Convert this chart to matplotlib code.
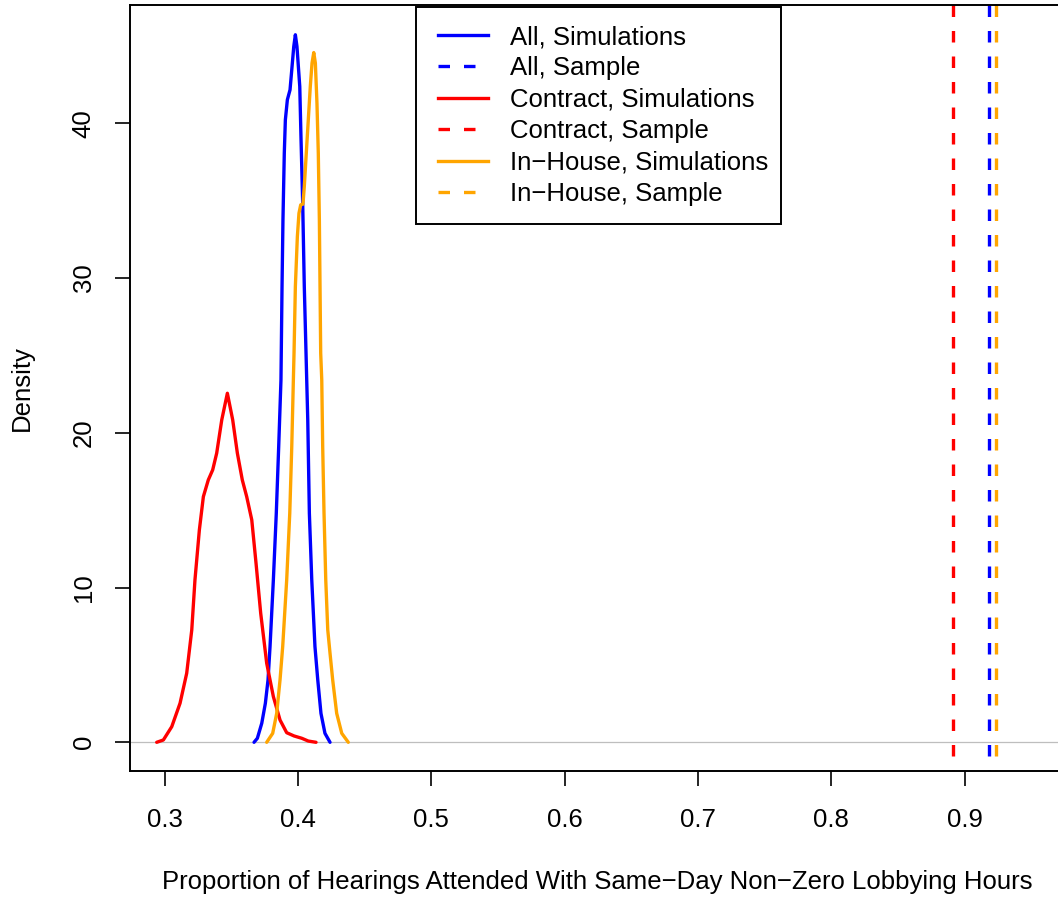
import matplotlib
matplotlib.use("Agg")
import matplotlib.pyplot as plt
from matplotlib.lines import Line2D
from matplotlib.patches import Rectangle

plt.rcParams['font.family'] = ['Liberation Sans', 'DejaVu Sans']

# density curves
all_x = [0.3670, 0.3695, 0.3728, 0.3755, 0.3775, 0.3790, 0.3815, 0.3837, 0.3855,
         0.3872, 0.3880, 0.3887, 0.3897, 0.3905, 0.3920, 0.3940, 0.3953, 0.3968,
         0.3980, 0.3992, 0.4013, 0.4022, 0.4035, 0.4047, 0.4060, 0.4073, 0.4085,
         0.4103, 0.4127, 0.4148, 0.4172, 0.4202, 0.4240]
all_y = [0.0, 0.26, 1.23, 2.52, 4.03, 6.18, 10.49, 14.80, 19.10,
         23.41, 29.44, 33.75, 38.06, 40.21, 41.51, 42.15, 43.44, 44.95,
         45.71, 44.95, 42.37, 39.13, 34.83, 29.44, 25.14, 20.83, 14.80,
         10.49, 6.18, 4.03, 1.87, 0.58, 0.0]

contract_x = [0.2940, 0.2990, 0.3053, 0.3115, 0.3165, 0.3203, 0.3227, 0.3260, 0.3290,
              0.3327, 0.3360, 0.3390, 0.3428, 0.3470, 0.3510, 0.3545, 0.3582, 0.3615,
              0.3653, 0.3685, 0.3720, 0.3765, 0.3815, 0.3865, 0.3915, 0.3970, 0.4028,
              0.4077, 0.4135]
contract_y = [0.0, 0.15, 1.01, 2.52, 4.46, 7.26, 10.49, 13.72, 15.87,
              16.95, 17.60, 18.68, 20.83, 22.55, 20.83, 18.68, 16.95, 15.87,
              14.37, 11.57, 8.34, 5.11, 2.95, 1.44, 0.62, 0.41, 0.26,
              0.08, 0.0]

inhouse_x = [0.3765, 0.3810, 0.3840, 0.3865, 0.3885, 0.3915, 0.3938, 0.3953, 0.3965,
             0.3970, 0.3980, 0.3995, 0.4007, 0.4020, 0.4037, 0.4047, 0.4062, 0.4077,
             0.4092, 0.4105, 0.4118, 0.4130, 0.4142, 0.4152, 0.4160, 0.4165, 0.4170,
             0.4178, 0.4185, 0.4195, 0.4208, 0.4223, 0.4240, 0.4260, 0.4290, 0.4328,
             0.4377]
inhouse_y = [0.0, 0.58, 1.87, 4.03, 6.18, 10.49, 14.80, 19.10, 23.41,
             25.14, 29.44, 32.67, 34.18, 34.72, 34.77, 35.90, 38.06, 40.21,
             42.37, 43.88, 44.56, 43.88, 41.29, 38.06, 33.75, 29.44, 25.14,
             23.41, 19.10, 14.80, 10.49, 7.26, 5.75, 4.03, 1.87, 0.58,
             0.0]

# observed sample proportions
sample_all = 0.918
sample_contract = 0.891
sample_inhouse = 0.9237

labels = ['All, Simulations', 'All, Sample', 'Contract, Simulations',
          'Contract, Sample', 'In\u2212House, Simulations', 'In\u2212House, Sample']
colors = ['blue', 'red', 'orange']

W, H = 1058, 897
fig = plt.figure(figsize=(W / 100, H / 100), dpi=100)
ax = fig.add_axes([130.3 / W, 1 - 770.7 / H, (1064 - 130.3) / W, (770.7 - 5.5) / H])

fs = 18.5
lw = 2.4
dash = (0, (3.45, 4.2))

ax.axhline(0, color='#BEBEBE', lw=0.9, zorder=1)
for xs, ys, c in [(all_x, all_y, colors[0]), (contract_x, contract_y, colors[1]),
                  (inhouse_x, inhouse_y, colors[2])]:
    ax.plot(xs, ys, color=c, lw=lw, solid_joinstyle='round', solid_capstyle='round')

# sample lines, drawn top to bottom like R's abline
xt = ax.get_xaxis_transform()
for v, c in [(sample_all, colors[0]), (sample_contract, colors[1]),
             (sample_inhouse, colors[2])]:
    ax.plot([v, v], [1, 0], transform=xt, color=c, lw=lw, ls=dash)

ax.set_xlim(0.2742, 0.9745)
ax.set_ylim(-1.835, 47.6)
ax.set_xticks([0.3, 0.4, 0.5, 0.6, 0.7, 0.8, 0.9])
ax.set_xticklabels(['0.3', '0.4', '0.5', '0.6', '0.7', '0.8', '0.9'])
ax.set_yticks([0, 10, 20, 30, 40])

for s in ax.spines.values():
    s.set_linewidth(1.4)
ax.tick_params(length=10.8, width=1.2, labelsize=fs, pad=16)
ax.tick_params(axis='y', labelrotation=90, pad=14)
for t in ax.get_yticklabels():
    t.set_va('center')

fig.text(597 / W, 1 - 889 / H, 'Proportion of Hearings Attended With Same\u2212Day '
         'Non\u2212Zero Lobbying Hours', ha='center', va='baseline', fontsize=fs)
fig.text(21.7 / W, 1 - 388 / H, 'Density', rotation=90, ha='center', va='center',
         fontsize=fs)

# legend: frame drawn by hand, entries placed inside it
fig.patches.append(Rectangle((415.7 / W, 1 - 224 / H), (781 - 415.7) / W,
                             (224 - 6.7) / H, transform=fig.transFigure,
                             facecolor='white', edgecolor='black', lw=1.4, zorder=3))
handles = []
for c in colors:
    handles.append(Line2D([], [], color=c, lw=lw))
    handles.append(Line2D([], [], color=c, lw=lw, ls=dash))
leg = fig.legend(handles, labels, loc='upper left', bbox_to_anchor=(437.7 / W, 1 - 25 / H),
                 borderaxespad=0, borderpad=0, fontsize=fs, handlelength=1.95,
                 handletextpad=0.88, labelspacing=0.29, frameon=False)
leg.set_zorder(4)

fig.savefig('out.png', dpi=100)
